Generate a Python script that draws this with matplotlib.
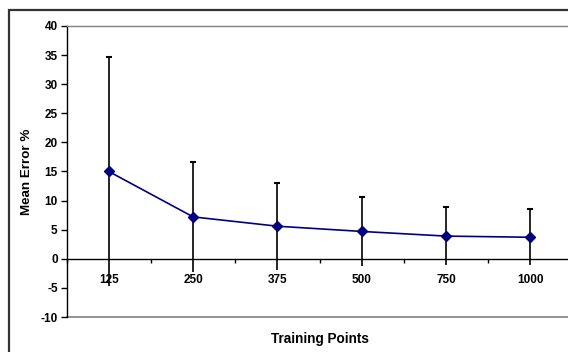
import matplotlib
matplotlib.use("Agg")
import matplotlib.pyplot as plt
from matplotlib.patches import Rectangle
import numpy as np

categories = ["125", "250", "375", "500", "750", "1000"]
mean_error = [15.0, 7.2, 5.6, 4.7, 3.9, 3.7]
error = [19.6, 9.4, 7.5, 6.0, 5.0, 4.8]
y_ticks = [-10, -5, 0, 5, 10, 15, 20, 25, 30, 35, 40]

plt.rcParams['font.family'] = ['Liberation Sans', 'DejaVu Sans']
plt.rcParams['font.weight'] = 'bold'

W, H = 568, 352
fig = plt.figure(figsize=(W / 100, H / 100), dpi=100)
fig.patch.set_facecolor('white')

# outer chart border (cropped at right/bottom)
fig.patches.append(Rectangle((9 / W, -0.2), 1.5, 1 - 10 / H + 0.2,
                             transform=fig.transFigure, fill=False,
                             edgecolor='#333333', linewidth=1.6))

left, right, top, bottom = 66.7, 572.5, 26, 317
ax = fig.add_axes([left / W, 1 - bottom / H, (right - left) / W, (bottom - top) / H])

x = np.arange(len(categories))
ax.set_xlim(-0.5, len(categories) - 0.5)
ax.set_ylim(-10, 40)

# error bars (black), caps only at top
ax.errorbar(x, mean_error, yerr=error, fmt='none', ecolor='black',
            elinewidth=1.2, capsize=0, zorder=2)
upper = [m + e for m, e in zip(mean_error, error)]
ax.plot(x, upper, linestyle='none', marker='_', color='black',
        markersize=4.5, markeredgewidth=1.5, zorder=2)

# data line
ax.plot(x, mean_error, color='#000080', linewidth=1.2, marker='D',
        markersize=5, markerfacecolor='#000080', markeredgecolor='#000080', zorder=3)

# spines
ax.spines['left'].set_color('black')
ax.spines['left'].set_linewidth(1.0)
ax.spines['top'].set_color('#808080')
ax.spines['top'].set_linewidth(1.0)
ax.spines['right'].set_color('#808080')
ax.spines['bottom'].set_position(('data', 0))
ax.spines['bottom'].set_color('black')
ax.spines['bottom'].set_linewidth(1.0)
ax.axhline(-10, color='#808080', linewidth=1.2, zorder=1, clip_on=False)

# y axis
ax.set_yticks(y_ticks)
ax.set_yticklabels([str(v) for v in y_ticks], fontsize=8.5, fontweight='bold')
ax.tick_params(axis='y', direction='out', length=4, width=1, pad=2.5, colors='black')

# x axis: labels at centers, ticks at boundaries
ax.set_xticks(x)
ax.set_xticklabels(categories, fontsize=8.5, fontweight='bold')
ax.tick_params(axis='x', which='major', length=0, pad=11)
ax.set_xticks(np.arange(-0.5, len(categories) + 0.5, 1), minor=True)
ax.tick_params(axis='x', which='minor', direction='out', length=3, width=1)

ax.set_ylabel("")
fig.text(27 / W, 1 - 171.5 / H, "Mean Error %", rotation=90,
         fontsize=9.6, fontweight='bold', ha='center', va='center')
fig.text((left + right) / 2 / W, 1 - 339 / H, "Training Points",
         fontsize=9.8, fontweight='bold', ha='center', va='center')

fig.savefig("out.png", dpi=100)
